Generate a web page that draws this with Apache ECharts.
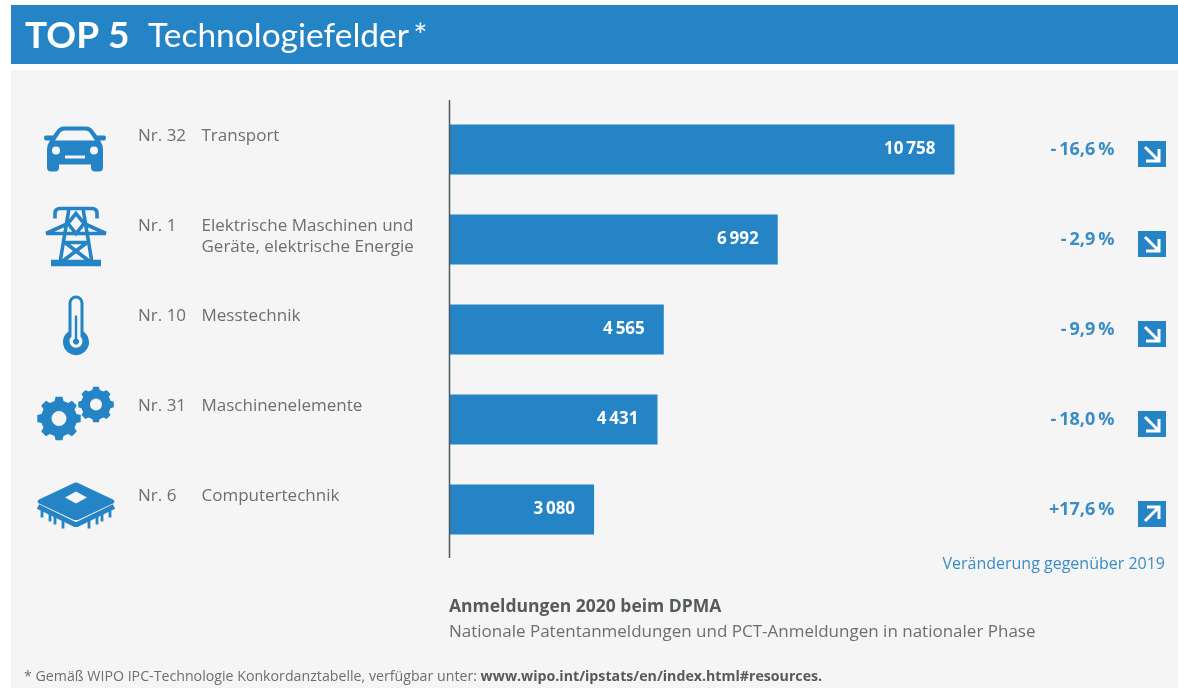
<!DOCTYPE html>
<html>
<head>
<meta charset="utf-8">
<style>html,body{margin:0;padding:0;background:#fff}#chart{width:1178px;height:688px}</style>
<script src="https://cdn.jsdelivr.net/npm/echarts@6/dist/echarts.min.js"></script>
</head>
<body>
<div id="chart"></div>
<script>
var categories = ['Transport', 'Elektrische Maschinen und\nGeräte, elektrische Energie', 'Messtechnik', 'Maschinenelemente', 'Computertechnik'];
var ranks = ['Nr. 32', 'Nr. 1', 'Nr. 10', 'Nr. 31', 'Nr. 6'];
var values = [10758, 6992, 4565, 4431, 3080];
var changes = [-16.6, -2.9, -9.9, -18.0, 17.6];
var iconNames = ['car', 'pylon', 'thermo', 'gears', 'chip'];

var BLUE = '#2484c6';
var GREY = '#6b6f72';
var HEAD_FONT = 'Lato';
var FONT = '"Open Sans"';

// builds a gear outline, holes run the other way round so they stay empty
function gear(cx, cy, r1, r2, hole, teeth) {
    var d = '', step = Math.PI * 2 / teeth;
    for (var i = 0; i < teeth; i++) {
        var a = i * step;
        var pts = [[r2, a - step * 0.32], [r1, a - step * 0.2], [r1, a + step * 0.2], [r2, a + step * 0.32]];
        pts.forEach(function (p, j) {
            d += (i === 0 && j === 0 ? 'M' : 'L') + (cx + p[0] * Math.cos(p[1])).toFixed(2) + ' ' + (cy + p[0] * Math.sin(p[1])).toFixed(2) + ' ';
        });
    }
    d += 'Z M' + (cx + hole) + ' ' + cy + ' A' + hole + ' ' + hole + ' 0 1 0 ' + (cx - hole) + ' ' + cy +
        ' A' + hole + ' ' + hole + ' 0 1 0 ' + (cx + hole) + ' ' + cy + ' Z ';
    return d;
}

// icon shapes, drawn around the icon origin
var icons = {
    car: [{ x: -32, y: -23, d: 'M20 0 H42 Q47 0 50 5 L53 9 H60 Q62 9 62 11 Q62 14 60 14 H56 Q59 18 59 23 V41 Q59 45 55 45 H51 Q47 45 47 41 V38 H15 V41 Q15 45 11 45 H7 Q3 45 3 41 V23 Q3 18 6 14 H2 Q0 14 0 11 Q0 9 2 9 H9 L12 5 Q15 0 20 0 Z ' +
        'M21 4 Q17 4 15 8 L11 14 H51 L47 8 Q45 4 41 4 Z M16 24 A4 4 0 1 0 8 24 A4 4 0 1 0 16 24 Z M54 24 A4 4 0 1 0 46 24 A4 4 0 1 0 54 24 Z M21 29 V32 H41 V29 Z' }],
    pylon: [{ x: -31, y: -31, stroke: 3.6, d: 'M10 12 V7 Q10 2 15 2 H47 Q52 2 52 7 V12 M24 2 L15 56 M38 2 L47 56 M1 27 H61 M1 27 L23 17 M61 27 L39 17 M31 7 L39 17 L31 27 L23 17 Z M20 36 H42 M20 36 L46 56 M42 36 L16 56 M6 55 H56 M6 58 H56' }],
    thermo: [{ x: -13, y: -30, d: 'M5.5 7.5 A7.5 7.5 0 0 1 20.5 7.5 V36 A13 13 0 1 1 5.5 36 Z M8.5 7.5 V41 A6.5 6.5 0 1 0 17.5 41 V7.5 A4.5 4.5 0 0 0 8.5 7.5 Z M11.8 20 H14.2 V43.3 A3 3 0 1 1 11.8 43.3 Z' }],
    gears: [{ x: 0, y: 0, d: gear(-17, 6, 22, 18, 7.5, 8) }, { x: 0, y: 0, d: gear(20, -8, 18, 15, 6, 8) }],
    chip: [
        { x: 0, y: 0, d: 'M-3 -19 Q0 -21 3 -19 L37 -3 Q40 -1 37 1 L3 17 Q0 18 -3 17 L-37 1 Q-40 -1 -37 -3 Z M-11 -5 L0 1 L11 -5 L0 -11 Z' },
        { x: 0, y: 0, stroke: 5, d: 'M-38 4 L-1 22 H1 L38 4' },
        { x: 0, y: 0, stroke: 2.8, d: 'M-34 8 V15 M-26 11 V19 M-21 13 V22 M-13 16 V26 M34 8 V15 M26 11 V19 M21 13 V22 M13 16 V26' }
    ]
};
var iconOffsetY = [0, -2, -4, -7, -7];

function fmtValue(v) {
    return String(v).replace(/\B(?=(\d{3})+$)/g, '\u2009');
}
function fmtChange(v) {
    return (v < 0 ? '-\u2009' : '+') + Math.abs(v).toFixed(1).replace('.', ',') + '\u2009%';
}

var myChart = echarts.init(document.getElementById('chart'));

// icon, rank, name, change and arrow of one row hang off the band centre of that row
function renderRow(params, api) {
    var i = api.value(0);
    var p = api.coord([0, i]);
    var x0 = p[0], yc = p[1];
    var children = [];
    icons[iconNames[i]].forEach(function (s) {
        children.push({
            type: 'path',
            x: x0 - 373.5 + s.x,
            y: yc + iconOffsetY[i] + s.y,
            shape: { pathData: s.d },
            style: s.stroke ? { fill: 'none', stroke: BLUE, lineWidth: s.stroke } : { fill: BLUE }
        });
    });
    children.push({
        type: 'text', x: x0 - 311.5, y: yc - 13,
        style: { text: ranks[i], fill: GREY, font: '17px ' + FONT, verticalAlign: 'middle' }
    });
    children.push({
        type: 'text', x: x0 - 248, y: yc - 23.5,
        style: { text: categories[i], fill: GREY, font: '17px ' + FONT, verticalAlign: 'top', lineHeight: 21 }
    });
    children.push({
        type: 'text', x: x0 + 665, y: yc,
        style: { text: fmtChange(changes[i]), fill: '#3a8cc6', font: 'bold 18px ' + FONT, align: 'right', verticalAlign: 'middle' }
    });
    var bx = x0 + 688.5, by = yc - 8.5;
    children.push({ type: 'rect', shape: { x: bx, y: by, width: 28, height: 26 }, style: { fill: BLUE } });
    var d = changes[i] < 0
        ? 'M7 6 L20 19 M21 8 V20 H8'
        : 'M7 20 L20 7 M9 6 H21 V18';
    children.push({ type: 'path', x: bx, y: by, shape: { pathData: d }, style: { fill: 'none', stroke: '#fff', lineWidth: 3 } });
    return { type: 'group', children: children };
}

var option = {
    backgroundColor: '#fff',
    animation: false,
    title: {
        left: 20, top: 13,
        text: '{a|TOP 5}{b|Technologiefelder\u2009*}',
        textStyle: {
            rich: {
                a: { fontFamily: HEAD_FONT, fontSize: 37, fontWeight: 'bold', color: '#fff', width: 123 },
                b: { fontFamily: HEAD_FONT, fontSize: 33.5, fontWeight: 'normal', color: '#fff' }
            }
        }
    },
    grid: { left: 449.5, top: 104.5, width: 505, height: 450 },
    xAxis: { type: 'value', min: 0, max: 10758, show: false },
    yAxis: {
        type: 'category',
        inverse: true,
        data: categories,
        axisLine: { show: false },
        axisTick: { show: false },
        axisLabel: { show: false }
    },
    graphic: [
        { type: 'rect', z: -10, shape: { x: 11, y: 5, width: 1167, height: 59 }, style: { fill: BLUE } },
        { type: 'rect', z: -10, shape: { x: 11, y: 70, width: 1167, height: 618 }, style: { fill: '#f5f5f5' } },
        { type: 'line', z: 5, shape: { x1: 449.5, y1: 100, x2: 449.5, y2: 558 }, style: { stroke: '#4a5a60', lineWidth: 1.5 } },
        { type: 'text', x: 1165, y: 564.5, style: { text: 'Veränderung gegenüber 2019', fill: '#3a8cc6', font: '16px ' + FONT, align: 'right', verticalAlign: 'middle' } },
        { type: 'text', x: 449, y: 607.5, style: { text: 'Anmeldungen 2020 beim DPMA', fill: '#555a5d', font: 'bold 17.5px ' + FONT, verticalAlign: 'middle' } },
        { type: 'text', x: 449, y: 632.5, style: { text: 'Nationale Patentanmeldungen und PCT-Anmeldungen in nationaler Phase', fill: GREY, font: '17px ' + FONT, verticalAlign: 'middle' } },
        {
            type: 'text', x: 24, y: 677,
            style: {
                text: '{n|* Gemäß WIPO IPC-Technologie Konkordanztabelle, verfügbar unter: }{b|www.wipo.int/ipstats/en/index.html#resources.}',
                verticalAlign: 'middle',
                rich: {
                    n: { fill: GREY, font: '14.2px ' + FONT },
                    b: { fill: '#555a5d', font: 'bold 14.2px ' + FONT }
                }
            }
        }
    ],
    series: [
        {
            type: 'bar',
            data: values,
            barWidth: 50,
            itemStyle: { color: BLUE },
            label: {
                show: true,
                position: 'insideRight',
                distance: 19,
                color: '#fff',
                fontFamily: FONT,
                fontWeight: 'bold',
                fontSize: 17,
                formatter: function (item) {
                    return fmtValue(item.value);
                }
            }
        },
        {
            type: 'custom',
            coordinateSystem: 'cartesian2d',
            silent: true,
            renderItem: renderRow,
            encode: { x: 1, y: 0 },
            data: categories.map(function (c, i) { return [i, 0]; })
        }
    ]
};
myChart.setOption(option);
</script>
</body>
</html>
